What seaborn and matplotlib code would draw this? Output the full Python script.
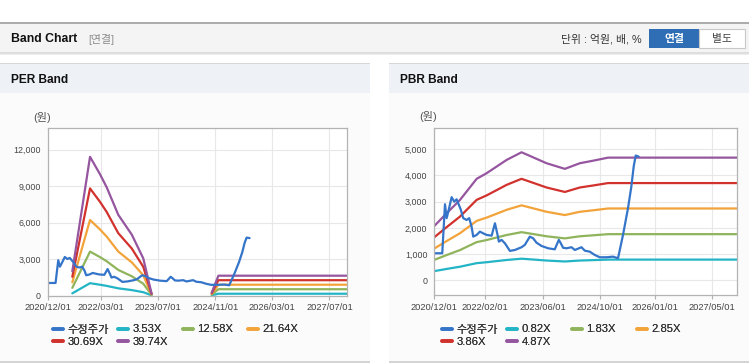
import numpy as np
import pandas as pd
import matplotlib
matplotlib.use("Agg")
import matplotlib.pyplot as plt
import seaborn as sns
from matplotlib.patches import Rectangle
from matplotlib.lines import Line2D

# ---------------- data ----------------
price_dates = ["2020-12-01", "2021-02-06", "2021-03-01", "2021-03-15", "2021-03-29", "2021-04-26",
               "2021-05-18", "2021-06-07", "2021-07-11", "2021-08-02", "2021-08-30", "2021-09-21",
               "2021-10-11", "2021-10-25", "2021-11-23", "2021-12-20", "2022-01-17", "2022-02-15",
               "2022-03-29", "2022-04-26", "2022-05-18", "2022-05-29", "2022-06-21", "2022-07-19",
               "2022-08-30", "2022-10-11", "2022-12-06", "2023-01-03", "2023-02-14", "2023-03-14",
               "2023-04-11", "2023-05-23", "2023-07-18", "2023-09-12", "2023-10-16", "2023-11-02",
               "2023-11-21", "2023-12-20", "2024-01-31", "2024-02-28", "2024-04-24", "2024-05-22",
               "2024-07-03", "2024-08-14", "2024-09-25", "2024-11-20", "2025-01-15", "2025-02-26",
               "2025-04-09", "2025-05-21", "2025-06-18", "2025-07-08", "2025-07-25", "2025-08-19"]
price_values = [1030, 1030, 2900, 2370, 2620, 3170, 3000, 3090, 2710, 2370, 2300, 2370,
                2050, 1665, 1730, 1855, 1790, 1730, 1700, 2175, 1730, 1475, 1540, 1410,
                1120, 1155, 1260, 1350, 1665, 1600, 1435, 1310, 1220, 1180, 1540, 1410,
                1240, 1220, 1260, 1155, 1260, 1130, 1090, 965, 877, 877, 900, 840,
                1730, 2750, 3570, 4340, 4760, 4720]

# PER band: two segments
per_labels = ["3.53X", "12.58X", "21.64X", "30.69X", "39.74X"]
per_dates_a = ["2021-06-29", "2021-11-27", "2022-02-20", "2022-04-18", "2022-07-26",
               "2022-11-18", "2023-02-24", "2023-05-06"]
per_dates_b = ["2024-09-30", "2024-11-26", "2027-11-28"]
per_353_a = [177, 1013, 886, 791, 590, 445, 272, 14]
per_1258_a = [629, 3610, 3158, 2818, 2101, 1585, 969, 50]
per_2164_a = [1082, 6211, 5432, 4847, 3614, 2727, 1666, 87]
per_3069_a = [1535, 8808, 7703, 6875, 5125, 3867, 2363, 123]
per_3974_a = [1987, 11405, 9975, 8902, 6637, 5007, 3060, 159]
per_353_b = [21, 145, 145]
per_1258_b = [75, 516, 516]
per_2164_b = [130, 887, 887]
per_3069_b = [184, 1258, 1258]
per_3974_b = [238, 1629, 1629]

# PBR band
pbr_labels = ["0.82X", "1.83X", "2.85X", "3.86X", "4.87X"]
pbr_dates = ["2020-12-01", "2021-03-15", "2021-07-05", "2021-11-23", "2022-02-15",
             "2022-05-10", "2022-08-02", "2022-12-06", "2023-02-28", "2023-07-05",
             "2023-12-06", "2024-04-10", "2024-07-31", "2024-12-04", "2027-11-28"]
pbr_082 = [349, 431, 516, 652, 688, 731, 773, 822, 795, 752, 716, 752, 768, 788, 788]
pbr_183 = [778, 961, 1151, 1455, 1535, 1631, 1726, 1835, 1773, 1678, 1598, 1678, 1715, 1759, 1759]
pbr_285 = [1211, 1496, 1793, 2266, 2391, 2539, 2688, 2859, 2762, 2613, 2488, 2613, 2670, 2739, 2739]
pbr_386 = [1641, 2027, 2428, 3069, 3239, 3439, 3640, 3872, 3740, 3540, 3370, 3540, 3617, 3709, 3709]
pbr_487 = [2070, 2557, 3063, 3872, 4086, 4339, 4592, 4885, 4719, 4466, 4252, 4466, 4563, 4680, 4680]

per_xticks = ["2020/12/01", "2022/03/01", "2023/07/01", "2024/11/01", "2026/03/01", "2027/07/01"]
pbr_xticks = ["2020/12/01", "2022/02/01", "2023/06/01", "2024/10/01", "2026/01/01", "2027/05/01"]
per_yticks = [0, 3000, 6000, 9000, 12000]
pbr_yticks = [0, 1000, 2000, 3000, 4000, 5000]
price_label = "수정주가"

# ---------------- style ----------------
sns.set_style("white")
plt.rcParams["font.family"] = ["Liberation Sans", "Noto Sans CJK KR"]
plt.rcParams["axes.unicode_minus"] = False

C_PRICE = "#3575c9"
BAND_COLORS = ["#23b4c6", "#8fb45b", "#f2a33a", "#d1322d", "#95569f"]
TXT = "#444444"

W, H = 749, 364
fig = plt.figure(figsize=(W / 100, H / 100), dpi=100)
fig.patch.set_facecolor("white")


def fx(x):
    return x / W


def fy(y):
    return 1 - y / H


def rect(x0, y0, x1, y1, fc, ec="none", lw=0, z=0):
    fig.add_artist(Rectangle((fx(x0), fy(y1)), (x1 - x0) / W, (y1 - y0) / H,
                             transform=fig.transFigure, facecolor=fc, edgecolor=ec,
                             linewidth=lw, zorder=z))


# top bar
rect(0, 21.5, W, 23.5, "#acacac")
rect(0, 23.5, W, 52, "#f4f4f4")
rect(0, 52, W, 53.5, "#dedede")
rect(0, 53.5, W, 55, "#eeeeee")
fig.text(fx(11), fy(39), "Band Chart", fontsize=8.8, fontweight="bold", color="#111111", va="center")
fig.text(fx(88), fy(39.5), "[연결]", fontsize=7.8, color="#8a8a8a", va="center")
fig.text(fx(642), fy(39.5), "단위 : 억원, 배, %", fontsize=7.8, color="#333333", va="center", ha="right")
rect(649, 29, 699, 48, "#2f6db5", z=1)
fig.text(fx(674), fy(39), "연결", fontsize=7.8, fontweight="bold", color="white", va="center", ha="center")
rect(699, 29, 745, 48, "white", ec="#c8c8c8", lw=0.8, z=1)
fig.text(fx(722), fy(39), "별도", fontsize=7.8, color="#444444", va="center", ha="center")

# panels
for (x0, x1, title) in [(0, 370, "PER Band"), (389, W, "PBR Band")]:
    rect(x0, 63.5, x1, 361, "#fbfbfb")
    rect(x0, 63.5, x1, 92.5, "#eef2f7")
    rect(x0, 63, x1, 64, "#d6d6d6")
    rect(x0, 361, x1, 362.5, "#d4d4d4")
    fig.text(fx(x0 + 11), fy(80), title, fontsize=8.6, fontweight="bold", color="#111111", va="center")


def style_axes(ax, xticks, yticks, ylim):
    ax.set_facecolor("white")
    ax.set_xlim(pd.Timestamp("2020-12-01"), pd.Timestamp("2027-11-28"))
    ax.set_ylim(*ylim)
    ax.set_xticks([pd.Timestamp(t.replace("/", "-")) for t in xticks])
    ax.set_xticklabels(xticks)
    ax.set_yticks(yticks)
    ax.set_yticklabels([f"{v:,}" for v in yticks])
    ax.tick_params(axis="x", length=3, width=0.8, color="#b0b0b0", labelsize=6.7,
                   labelcolor=TXT, pad=2.5, direction="out", bottom=True)
    ax.tick_params(axis="y", length=0, labelsize=6.4, labelcolor=TXT, pad=5, left=True)
    ax.grid(True, color="#e8e8e8", linewidth=0.8)
    ax.set_axisbelow(True)
    for s in ax.spines.values():
        s.set_color("#b3b3b3")
        s.set_linewidth(0.9)
    ax.set_xlabel("")
    ax.set_ylabel("")


price_df = pd.DataFrame({"date": pd.to_datetime(price_dates), "value": price_values})

# ---- PER ----
ax1 = fig.add_axes([fx(47.7), fy(295.5), (347 - 47.7) / W, (295.5 - 128.3) / H])
per_a = [per_353_a, per_1258_a, per_2164_a, per_3069_a, per_3974_a]
per_b = [per_353_b, per_1258_b, per_2164_b, per_3069_b, per_3974_b]
rows = []
for lab, va, vb in zip(per_labels, per_a, per_b):
    for d, v in zip(per_dates_a, va):
        rows.append((lab, "a", pd.Timestamp(d), v))
    for d, v in zip(per_dates_b, vb):
        rows.append((lab, "b", pd.Timestamp(d), v))
per_df = pd.DataFrame(rows, columns=["band", "seg", "date", "value"])
sns.lineplot(data=per_df, x="date", y="value", hue="band", units="seg", estimator=None,
             palette=dict(zip(per_labels, BAND_COLORS)), hue_order=per_labels,
             linewidth=1.6, legend=False, ax=ax1)
sns.lineplot(data=price_df, x="date", y="value", color=C_PRICE, linewidth=1.6, ax=ax1)
style_axes(ax1, per_xticks, per_yticks, (0, 13750))

# ---- PBR ----
ax2 = fig.add_axes([fx(434.3), fy(295.3), (737.3 - 434.3) / W, (295.3 - 128.3) / H])
pbr_vals = [pbr_082, pbr_183, pbr_285, pbr_386, pbr_487]
rows = []
for lab, vals in zip(pbr_labels, pbr_vals):
    for d, v in zip(pbr_dates, vals):
        rows.append((lab, pd.Timestamp(d), v))
pbr_df = pd.DataFrame(rows, columns=["band", "date", "value"])
sns.lineplot(data=pbr_df, x="date", y="value", hue="band", estimator=None,
             palette=dict(zip(pbr_labels, BAND_COLORS)), hue_order=pbr_labels,
             linewidth=1.6, legend=False, ax=ax2)
sns.lineplot(data=price_df, x="date", y="value", color=C_PRICE, linewidth=1.6, ax=ax2)
style_axes(ax2, pbr_xticks, pbr_yticks, (-575, 5800))

# unit labels
fig.text(fx(42.5), fy(118), "(원)", fontsize=8, color="#555555", ha="center", va="center")
fig.text(fx(428.5), fy(117), "(원)", fontsize=8, color="#555555", ha="center", va="center")


# legends: 4 fixed-width columns
def add_legends(x_start, labels):
    names = [price_label] + labels
    colors = [C_PRICE] + BAND_COLORS
    cols = [[0, 4], [1, 5], [2], [3]]
    for ci, idxs in enumerate(cols):
        handles = [Line2D([], [], color=colors[i], linewidth=2.6) for i in idxs]
        leg = fig.legend(handles, [names[i] for i in idxs], loc="upper left",
                         bbox_to_anchor=(fx(x_start + 65 * ci), fy(324.5)),
                         bbox_transform=fig.transFigure, frameon=False, fontsize=8.1,
                         borderpad=0, borderaxespad=0, handlelength=0.9,
                         handletextpad=0.38, labelspacing=0.22, labelcolor="#333333")
        fig.add_artist(leg)


add_legends(53, per_labels)
add_legends(442, pbr_labels)

fig.savefig("out.png", dpi=100)
